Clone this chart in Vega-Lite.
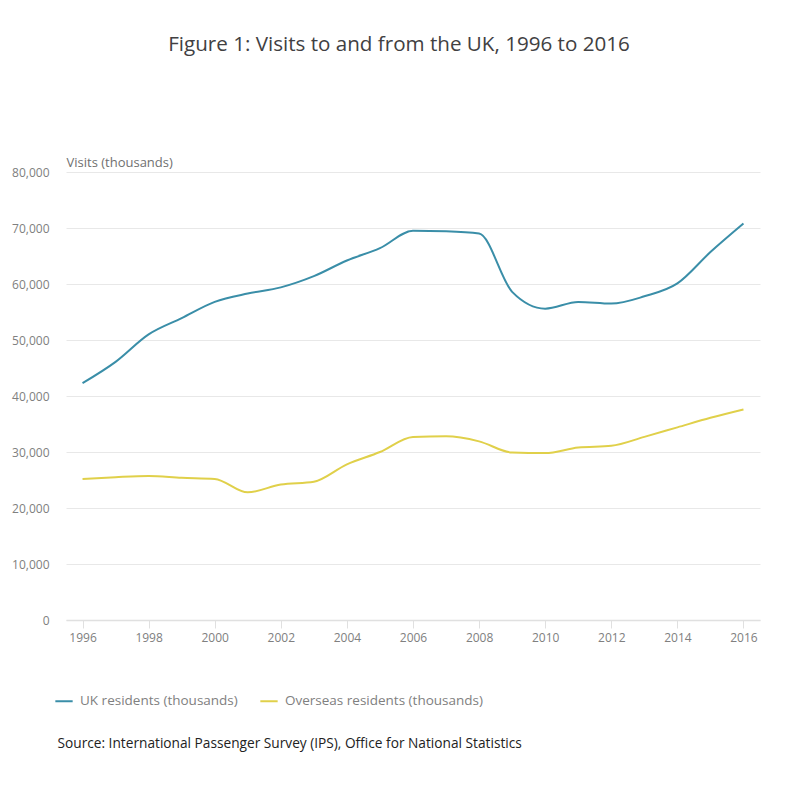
{
  "$schema": "https://vega.github.io/schema/vega-lite/v6.json",
  "width": 694,
  "height": 448,
  "autosize": {"type": "none"},
  "padding": {"left": 66, "top": 172, "right": 40, "bottom": 171},
  "background": "white",
  "config": {
    "font": "Open Sans",
    "view": {"stroke": null}
  },
  "title": {
    "text": "Figure 1: Visits to and from the UK, 1996 to 2016",
    "anchor": "middle",
    "dx": -14,
    "offset": 100,
    "fontSize": 20.6,
    "fontWeight": "normal",
    "color": "#414042",
    "font": "Open Sans"
  },
  "data": {
    "values": [
      {"year": 1996, "series": "UK residents (thousands)", "visits": 42300},
      {"year": 1997, "series": "UK residents (thousands)", "visits": 46100},
      {"year": 1998, "series": "UK residents (thousands)", "visits": 51000},
      {"year": 1999, "series": "UK residents (thousands)", "visits": 53900},
      {"year": 2000, "series": "UK residents (thousands)", "visits": 56800},
      {"year": 2001, "series": "UK residents (thousands)", "visits": 58300},
      {"year": 2002, "series": "UK residents (thousands)", "visits": 59400},
      {"year": 2003, "series": "UK residents (thousands)", "visits": 61400},
      {"year": 2004, "series": "UK residents (thousands)", "visits": 64200},
      {"year": 2005, "series": "UK residents (thousands)", "visits": 66400},
      {"year": 2006, "series": "UK residents (thousands)", "visits": 69500},
      {"year": 2007, "series": "UK residents (thousands)", "visits": 69400},
      {"year": 2008, "series": "UK residents (thousands)", "visits": 69000},
      {"year": 2009, "series": "UK residents (thousands)", "visits": 58600},
      {"year": 2010, "series": "UK residents (thousands)", "visits": 55600},
      {"year": 2011, "series": "UK residents (thousands)", "visits": 56800},
      {"year": 2012, "series": "UK residents (thousands)", "visits": 56500},
      {"year": 2013, "series": "UK residents (thousands)", "visits": 57800},
      {"year": 2014, "series": "UK residents (thousands)", "visits": 60100},
      {"year": 2015, "series": "UK residents (thousands)", "visits": 65700},
      {"year": 2016, "series": "UK residents (thousands)", "visits": 70800},
      {"year": 1996, "series": "Overseas residents (thousands)", "visits": 25200},
      {"year": 1997, "series": "Overseas residents (thousands)", "visits": 25500},
      {"year": 1998, "series": "Overseas residents (thousands)", "visits": 25700},
      {"year": 1999, "series": "Overseas residents (thousands)", "visits": 25400},
      {"year": 2000, "series": "Overseas residents (thousands)", "visits": 25200},
      {"year": 2001, "series": "Overseas residents (thousands)", "visits": 22800},
      {"year": 2002, "series": "Overseas residents (thousands)", "visits": 24200},
      {"year": 2003, "series": "Overseas residents (thousands)", "visits": 24700},
      {"year": 2004, "series": "Overseas residents (thousands)", "visits": 27800},
      {"year": 2005, "series": "Overseas residents (thousands)", "visits": 30000},
      {"year": 2006, "series": "Overseas residents (thousands)", "visits": 32700},
      {"year": 2007, "series": "Overseas residents (thousands)", "visits": 32800},
      {"year": 2008, "series": "Overseas residents (thousands)", "visits": 31900},
      {"year": 2009, "series": "Overseas residents (thousands)", "visits": 29900},
      {"year": 2010, "series": "Overseas residents (thousands)", "visits": 29800},
      {"year": 2011, "series": "Overseas residents (thousands)", "visits": 30800},
      {"year": 2012, "series": "Overseas residents (thousands)", "visits": 31100},
      {"year": 2013, "series": "Overseas residents (thousands)", "visits": 32700},
      {"year": 2014, "series": "Overseas residents (thousands)", "visits": 34400},
      {"year": 2015, "series": "Overseas residents (thousands)", "visits": 36100},
      {"year": 2016, "series": "Overseas residents (thousands)", "visits": 37600}
    ]
  },
  "mark": {"type": "line", "strokeWidth": 2, "interpolate": "monotone"},
  "encoding": {
    "x": {
      "field": "year",
      "type": "quantitative",
      "scale": {"domain": [1995.5, 2016.5], "nice": false, "zero": false},
      "axis": {
        "values": [1996, 1998, 2000, 2002, 2004, 2006, 2008, 2010, 2012, 2014, 2016],
        "format": "d",
        "grid": false,
        "domain": true,
        "domainColor": "#e0e0e0",
        "domainWidth": 1.5,
        "ticks": true,
        "tickColor": "#e0e0e0",
        "tickSize": 8,
        "labelFontSize": 12,
        "labelColor": "#808080",
        "labelPadding": 4,
        "title": "Source: International Passenger Survey (IPS), Office for National Statistics",
        "titleFontSize": 13.7,
        "titleFontWeight": "normal",
        "titleColor": "#222222",
        "titleAnchor": "start",
        "titleAlign": "left",
        "titleX": -9,
        "titleY": 127,
        "titleBaseline": "alphabetic"
      }
    },
    "y": {
      "field": "visits",
      "type": "quantitative",
      "scale": {"domain": [0, 80000], "nice": false},
      "axis": {
        "values": [0, 10000, 20000, 30000, 40000, 50000, 60000, 70000, 80000],
        "format": ",d",
        "grid": true,
        "gridColor": "#e8e8e8",
        "gridWidth": 1,
        "domain": false,
        "ticks": false,
        "labelFontSize": 12,
        "labelColor": "#808080",
        "labelPadding": 17,
        "title": "Visits (thousands)",
        "titleAngle": 0,
        "titleX": 0,
        "titleY": -3,
        "titleAlign": "left",
        "titleBaseline": "bottom",
        "titleFontSize": 13,
        "titleFontWeight": "normal",
        "titleColor": "#707070"
      }
    },
    "color": {
      "field": "series",
      "type": "nominal",
      "sort": ["UK residents (thousands)", "Overseas residents (thousands)"],
      "scale": {
        "domain": ["UK residents (thousands)", "Overseas residents (thousands)"],
        "range": ["#3a8ea8", "#e0d04a"]
      },
      "legend": {
        "orient": "none",
        "direction": "horizontal",
        "legendX": -12,
        "legendY": 519,
        "title": null,
        "symbolType": "stroke",
        "symbolSize": 300,
        "symbolStrokeWidth": 2,
        "labelFontSize": 13.5,
        "labelColor": "#808080",
        "labelLimit": 0,
        "columnPadding": 18,
        "labelOffset": 6
      }
    }
  }
}
